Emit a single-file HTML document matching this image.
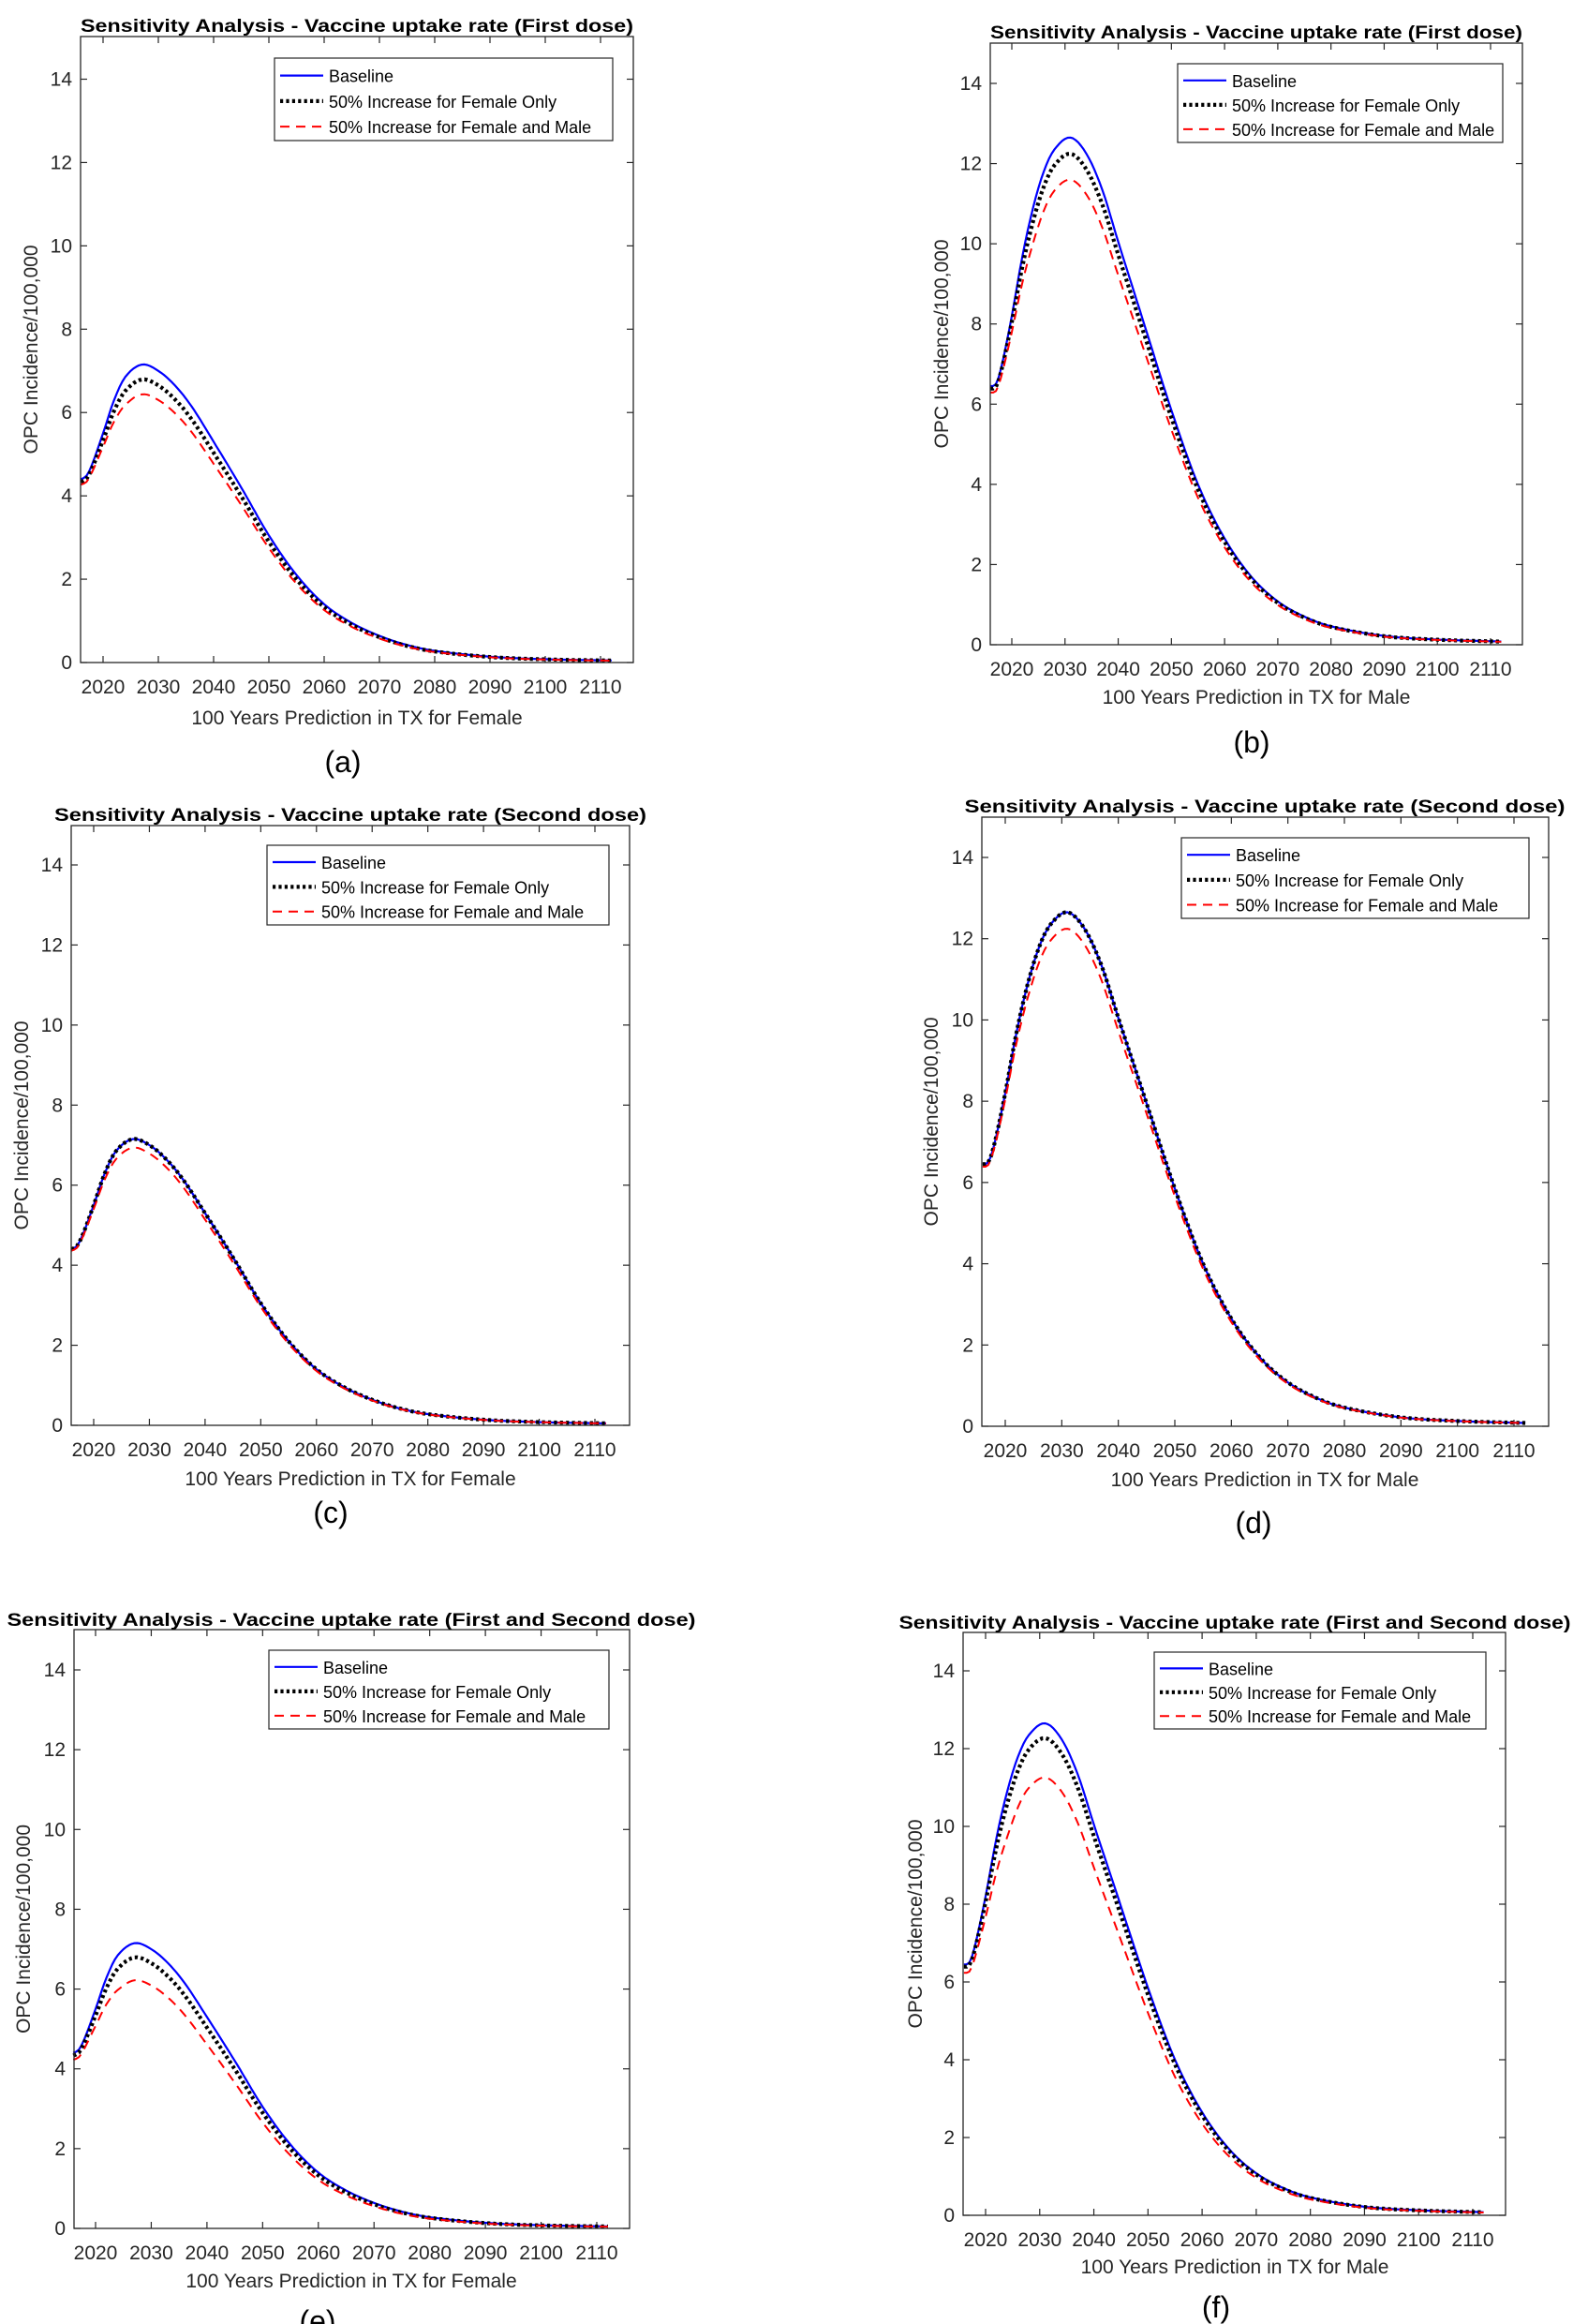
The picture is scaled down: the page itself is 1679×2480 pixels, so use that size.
<!DOCTYPE html>
<html><head><meta charset="utf-8"><style>
html,body{margin:0;padding:0;background:#fff;}
svg{display:block;font-family:"Liberation Sans",Arial,sans-serif;}
</style></head><body>
<svg id="s" xmlns="http://www.w3.org/2000/svg" width="1679" height="2480" viewBox="0 0 1679 2480">
<rect width="1679" height="2480" fill="#fff"/>
</svg>
<script>
var F=[[2016,4.4],[2017,4.48],[2018,4.75],[2020,5.5],[2022,6.3],[2024,6.85],[2027,7.15],[2030,7.0],[2033,6.65],[2036,6.15],[2040,5.3],[2045,4.2],[2050,3.05],[2055,2.1],[2060,1.4],[2065,0.95],[2070,0.64],[2075,0.42],[2080,0.28],[2090,0.14],[2100,0.08],[2112,0.05]];
var M=[[2016,6.45],[2017,6.5],[2018,6.9],[2020,8.2],[2022,9.7],[2024,10.9],[2026,11.8],[2028,12.35],[2031,12.65],[2034,12.25],[2037,11.35],[2040,10.05],[2045,7.95],[2050,5.85],[2055,4.0],[2060,2.65],[2065,1.7],[2070,1.08],[2075,0.7],[2080,0.46],[2090,0.22],[2100,0.13],[2112,0.08]];
function interp(P,t){
 for(var i=0;i<P.length-1;i++){ if(t<=P[i+1][0]){
  var p0=P[Math.max(i-1,0)],p1=P[i],p2=P[i+1],p3=P[Math.min(i+2,P.length-1)];
  var u=(t-p1[0])/(p2[0]-p1[0]);
  var h=p2[0]-p1[0];
  var m1=(p2[1]-p0[1])/(p2[0]-p0[0]||1)*h, m2=(p3[1]-p1[1])/(p3[0]-p1[0]||1)*h;
  var u2=u*u,u3=u2*u;
  return (2*u3-3*u2+1)*p1[1]+(u3-2*u2+u)*m1+(-2*u3+3*u2)*p2[1]+(u3-u2)*m2;
 }}
 return P[P.length-1][1];
}
var panels=[
{L:86,R:676,T:39,B:707,y14:84.5,x0:110,x1:641,title:"Sensitivity Analysis - Vaccine uptake rate (First dose)",tc:381,ty:27,tw:590,lg:[293,62,654,150],ylx:32,xlc:381,xly:773,lab:"(a)",lx:366,ly:824,d:F,k:[0.95,0.90]},
{L:1057,R:1625,T:46,B:688,y14:89,x0:1080,x1:1591,title:"Sensitivity Analysis - Vaccine uptake rate (First dose)",tc:1341,ty:34,tw:568,lg:[1257,68,1604,152],ylx:164+840,xlc:1341,xly:751,lab:"(b)",lx:1336,ly:803,d:M,k:[0.968,0.917]},
{L:76,R:672,T:881,B:1521,y14:923,x0:100,x1:635,title:"Sensitivity Analysis - Vaccine uptake rate (Second dose)",tc:374,ty:869,tw:632,lg:[285,902,650,987],ylx:22,xlc:374,xly:1585,lab:"(c)",lx:353,ly:1625,d:F,k:[1.0,0.97]},
{L:1048,R:1653,T:872,B:1522,y14:915,x0:1073,x1:1616,title:"Sensitivity Analysis - Vaccine uptake rate (Second dose)",tc:1350,ty:860,tw:641,lg:[1261,894,1632,980],ylx:993,xlc:1350,xly:1586,lab:"(d)",lx:1338,ly:1636,d:M,k:[1.0,0.968]},
{L:79,R:672,T:1739,B:2378,y14:1782,x0:102,x1:637,title:"Sensitivity Analysis - Vaccine uptake rate (First and Second dose)",tc:375,ty:1728,tw:735,lg:[287,1761,650,1845],ylx:24,xlc:375,xly:2441,lab:"(e)",lx:339,ly:2488,d:F,k:[0.95,0.87]},
{L:1028,R:1607,T:1742,B:2364,y14:1783,x0:1052,x1:1572,title:"Sensitivity Analysis - Vaccine uptake rate (First and Second dose)",tc:1318,ty:1731,tw:717,lg:[1232,1763,1586,1845],ylx:976,xlc:1318,xly:2426,lab:"(f)",lx:1298,ly:2473,d:M,k:[0.97,0.89]}
];
var out="";
panels.forEach(function(p){
 var sy=(p.B-p.y14)/14, sx=(p.x1-p.x0)/90;
 function X(t){return p.x0+(t-2020)*sx;} function Y(v){return p.B-v*sy;}
 var ax="#262626";
 for(var v=0;v<=14;v+=2){var y=Y(v);
  out+='<line x1="'+p.L+'" y1="'+y+'" x2="'+(p.L+7)+'" y2="'+y+'" stroke="'+ax+'" stroke-width="1.2"/>';
  out+='<line x1="'+p.R+'" y1="'+y+'" x2="'+(p.R-7)+'" y2="'+y+'" stroke="'+ax+'" stroke-width="1.2"/>';
  out+='<text x="'+(p.L-9)+'" y="'+(y+7)+'" font-size="21" fill="#262626" text-anchor="end">'+v+'</text>';}
 for(var t=2020;t<=2110;t+=10){var x=X(t);
  out+='<line x1="'+x+'" y1="'+p.B+'" x2="'+x+'" y2="'+(p.B-7)+'" stroke="'+ax+'" stroke-width="1.2"/>';
  out+='<line x1="'+x+'" y1="'+p.T+'" x2="'+x+'" y2="'+(p.T+7)+'" stroke="'+ax+'" stroke-width="1.2"/>';
  out+='<text x="'+x+'" y="'+(p.B+33)+'" font-size="21" fill="#262626" text-anchor="middle">'+t+'</text>';}
 var series=[[1,'#0000ff',2.2,''],[p.k[0],'#000',4.2,'3.2,3.2'],[p.k[1],'#ff0000',2,'10,7']];
 [0,1,2].forEach(function(si){var s=series[si];var pts=[];
  for(var t=2016;t<=2112.01;t+=0.5){
   var w=Math.min(1,(t-2016)/9); w=0.3+0.7*(w*w*(3-2*w));
   var r=1-(1-s[0])*w;
   pts.push(X(t).toFixed(1)+','+Y(interp(p.d,t)*r).toFixed(1));}
  out+='<polyline points="'+pts.join(' ')+'" fill="none" stroke="'+s[1]+'" stroke-width="'+s[2]+'"'+(s[3]?' stroke-dasharray="'+s[3]+'"':'')+' stroke-linejoin="round"/>';
 });
 out+='<rect x="'+p.L+'" y="'+p.T+'" width="'+(p.R-p.L)+'" height="'+(p.B-p.T)+'" fill="none" stroke="'+ax+'" stroke-width="1.3"/>';
 var g=p.lg, lh=(g[3]-g[1]);
 out+='<rect x="'+g[0]+'" y="'+g[1]+'" width="'+(g[2]-g[0])+'" height="'+lh+'" fill="#fff" stroke="'+ax+'" stroke-width="1.2"/>';
 var names=["Baseline","50% Increase for Female Only","50% Increase for Female and Male"];
 for(var i=0;i<3;i++){var yy=g[1]+lh*(0.2+0.31*i)+1;
  out+='<line x1="'+(g[0]+6)+'" y1="'+yy+'" x2="'+(g[0]+52)+'" y2="'+yy+'" stroke="'+series[i][1]+'" stroke-width="'+series[i][2]+'"'+(series[i][3]?' stroke-dasharray="'+series[i][3]+'"':'')+'/>';
  out+='<text x="'+(g[0]+58)+'" y="'+(yy+7)+'" font-size="18" fill="#000">'+names[i]+'</text>';}
 out+='<text x="'+p.tc+'" y="'+(p.ty+7)+'" font-size="19" font-weight="bold" fill="#000" text-anchor="middle" textLength="'+p.tw+'" lengthAdjust="spacingAndGlyphs">'+p.title+'</text>';
 var ym=(p.T+p.B)/2;
 out+='<text transform="translate('+(p.ylx+8)+','+ym+') rotate(-90)" font-size="21" fill="#262626" text-anchor="middle">OPC Incidence/100,000</text>';
 out+='<text x="'+p.xlc+'" y="'+p.xly+'" font-size="21" fill="#262626" text-anchor="middle">100 Years Prediction in TX for '+(p.d===F?'Female':'Male')+'</text>';
 out+='<text x="'+p.lx+'" y="'+p.ly+'" font-size="32" fill="#000" text-anchor="middle">'+p.lab+'</text>';
});
document.getElementById('s').insertAdjacentHTML('beforeend',out);
</script>
</body></html>
